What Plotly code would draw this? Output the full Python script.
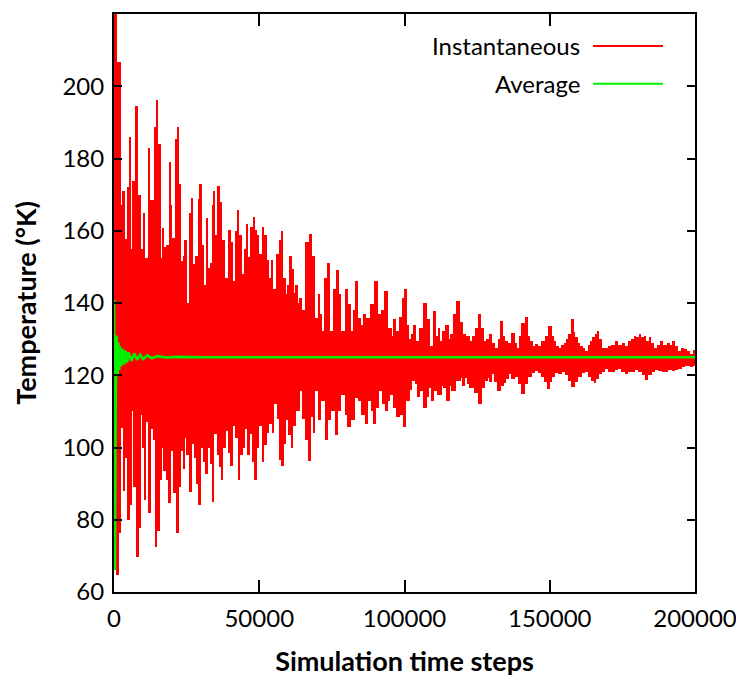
import plotly.graph_objects as go

# ---------------- data ----------------
# Upper peaks of the instantaneous temperature (step, K)
peak_steps = [300, 1650, 2480, 3270, 3960, 4750, 5580, 6130, 6820, 7850, 8780, 9710, 10270, 11090,
              11990, 12820, 13710, 14190, 14880, 15670, 16260, 16810, 17640, 18430, 19120, 19710,
              20500, 21190, 21880, 22560, 23360, 23940, 24630, 25420, 26250, 26940, 27490, 28320,
              29210, 29800, 30590, 31180, 31970, 32900, 33490, 34040, 34620, 35210, 36000, 36690,
              37720, 38650, 39790, 40580, 41510, 42100, 42650, 43480, 44370, 45200, 45750, 46440,
              47270, 48160, 48750, 49540, 50470, 51260, 52090, 52980, 53810, 54500, 55290, 56430,
              57260, 57810, 58740, 59320, 59870, 60800, 61600, 62180, 62760, 63660, 64250, 65280,
              66420, 67590, 68490, 69660, 70560, 71250, 71930, 72860, 73890, 74820, 75960, 76890,
              77680, 78820, 79990, 80890, 81920, 82680, 83440, 84570, 85430, 86300, 87430, 88190,
              88950, 90330, 91460, 92500, 93530, 94910, 95770, 96630, 97770, 98700, 99490, 100420,
              101100, 101800, 102660, 103520, 104660, 105830, 107210, 108110, 109280, 110410,
              111100, 111900, 112650, 113510, 114650, 115410, 116170, 117300, 118440, 119610,
              120750, 121890, 123060, 123850, 124780, 125920, 126780, 127640, 128680, 129710,
              130570, 131680, 132570, 133400, 134190, 135120, 136260, 137400, 138330, 139120,
              140050, 140840, 142010, 142800, 143730, 144520, 145450, 146590, 147720, 148830,
              150030, 150890, 151750, 152610, 153480, 154340, 155200, 156060, 156920, 157850,
              158470, 159230, 160020, 160950, 161740, 162670, 163640, 164330, 164950, 165880,
              166670, 167430, 168390, 169500, 170700, 171730, 173010, 174150, 175280, 176390,
              177590, 178450, 179320, 180180, 181040, 181900, 182760, 183620, 184490, 185350,
              186210, 187410, 188520, 189650, 190790, 191720, 192510, 193610, 194820, 195680,
              196540, 197680, 198850, 199640]
peak_temps = [220, 206.8, 167, 171, 157.6, 172, 186, 155, 173.7, 194.6, 170, 155, 165, 152.4,
              182.8, 168.4, 168.4, 188.8, 196.3, 184, 152.4, 160.7, 155.4, 156, 179, 167,
              158, 185.5, 188.8, 173, 151.6, 153, 157.5, 140, 165, 169, 150.8, 153,
              168.7, 173, 156, 145, 163.4, 149.6, 151, 167, 171, 158.7, 172.3, 168,
              157.5, 147, 160.3, 157, 146, 160, 165.8, 158.7, 148, 155, 162, 152.6,
              161, 163.9, 160.3, 158.7, 153.5, 161, 158.7, 152, 147, 152, 144, 153.5,
              157.5, 160, 147, 142.5, 145, 153, 149.5, 142.8, 145, 140, 141.4, 138,
              157, 159, 153, 135.9, 142.5, 137, 132.3, 147, 151, 132.3, 144, 149,
              142.5, 132.3, 143.9, 139.7, 132.3, 138, 146, 135.9, 134, 137, 135.9, 133,
              139.7, 146, 137, 138, 143.3, 133, 131, 135.6, 132.3, 136, 141.4, 144,
              134, 130, 131.5, 134, 129.5, 133, 140, 135.6, 128, 137.8,
              131, 133, 129.5, 132.3, 134, 130, 131.4, 137, 140.5, 134.8,
              131.4, 131, 129.5, 131, 133, 137, 133, 129.5, 130, 131.4,
              129, 127.6, 130, 135, 131, 129.5, 129, 131.7, 129, 127.6,
              131, 134.5, 136, 131, 129.5, 128, 128.6, 128, 129.5, 131,
              133.7, 131, 129.5, 128, 127.6, 128.5, 129, 130, 131.4, 135.6,
              132, 130.5, 129, 128.2, 127.5, 126.8, 128.5, 129.5, 130.5, 131.5,
              132.3, 130, 127.6, 127.5, 128.2, 128.5, 129.5, 128.5, 129, 128,
              129.5, 130, 131, 130.5, 131.4, 130.5, 131, 129.5, 130.5, 129,
              127.6, 128.5, 129.5, 128.5, 129, 128.5, 129.5, 128, 126.8, 127.5,
              127.2, 126.8, 126, 127]

# Lower troughs of the instantaneous temperature (step, K)
trough_steps = [1200, 1890, 2820, 3380, 4200, 5100, 5680, 6480, 7060, 7990, 8780, 9370, 9920,
                10750, 11440, 12230, 13020, 13710, 14540, 15330, 16020, 16810, 17400, 18330,
                19120, 20050, 20840, 21770, 22560, 23360, 24050, 24630, 25420, 26350, 27150,
                27970, 28660, 29450, 30250, 30940, 31760, 32660, 33490, 34040, 34970, 35760,
                36590, 37280, 38070, 38860, 39550, 40380, 41170, 42100, 43000, 43820, 44610,
                45540, 46340, 47270, 48060, 48750, 49540, 50470, 51260, 52090, 52980, 53810,
                54710, 55530, 56430, 57260, 57950, 58740, 59670, 60460, 61250, 62180, 63320,
                64490, 65280, 66210, 67350, 68280, 68900, 69660, 70800, 71930, 73100, 74240,
                75380, 76550, 77680, 78820, 79990, 80890, 82270, 83440, 84570, 85710, 86880,
                88020, 88880, 89740, 90670, 92050, 92840, 93770, 94560, 95500, 96630, 97770,
                98940, 100070, 101210, 101970, 102930, 104100, 104900, 105830, 107210, 108000,
                108690, 109550, 110410, 112130, 113000, 113860, 115000, 115760, 116720, 118440,
                119610, 120400, 121330, 122120, 123060, 124780, 125920, 126500, 127090, 128250,
                128800, 129560, 130500, 131430, 132220, 132810, 133670, 134530, 135390, 136260,
                137290, 138560, 139700, 140840, 141940, 143140, 144280, 145450, 146590, 147720,
                148660, 149450, 150380, 151170, 152270, 153480, 154680, 155790, 156920, 158060,
                159160, 160370, 161500, 162670, 163810, 164840, 165530, 166390, 167250, 168390,
                169560, 170700, 171840, 172940, 174150, 175280, 176460, 177590, 178730, 179830,
                181040, 182180, 183340, 184490, 185620, 186730, 187940, 189070, 190240, 191380,
                192510, 193610, 194820, 195960, 197120, 197910, 198850, 199640]
trough_temps = [64.7, 76.3, 105.5, 88, 97, 80, 84, 110, 89, 69.7, 77.7, 109, 100,
                85.4, 107, 82, 105, 102, 72.4, 77, 91, 100, 93.6, 91,
                84.5, 99, 87.3, 76.3, 89, 99, 94, 102.7, 98, 87.6, 101,
                97, 90, 84, 100, 96, 92.8, 100, 95.4, 84.8, 103.8, 98,
                94.7, 91, 100, 104.5, 98.5, 95, 106, 102.7, 91, 98, 100,
                105, 98, 103.8, 96, 91, 100, 106, 96, 100.6, 104, 106.5,
                104, 112, 108, 96.6, 95, 101, 107.6, 103.5, 100, 106, 110,
                115.7, 108, 102, 96.4, 108.4, 104, 115.7, 107.6, 113, 102, 107.6,
                110, 103.5, 110, 114.5, 109, 105.6, 107.6, 113.8, 113, 109, 106.4,
                113, 110, 106.4, 111, 115.7, 112, 110, 113, 114.5, 111, 108.4,
                109, 105.6, 113, 116, 118.4, 117.5, 114, 115.7, 111, 114,
                116.6, 113, 115.7, 114.5, 117, 116.6, 113, 117, 115.7, 118.4,
                119.3, 117, 119.3, 117.5, 116.6, 115, 112, 112, 116.6, 118.5,
                119.3, 118, 120.4, 118, 115.7, 115.7, 117, 117.9, 119, 120.4,
                119, 119.5, 117.5, 114.9, 117.5, 119.5, 120.5, 121.3, 120.5, 119.5,
                118, 116.3, 118, 119.5, 120.5, 120.4, 121, 120, 118.5, 116.8,
                118, 119.5, 120.5, 120.9, 119.5, 118.5, 117.9, 119, 120.4, 121,
                121.8, 121, 120.9, 121.5, 121.8, 121, 120.4, 121, 120.9, 121.5,
                120.9, 120, 118.6, 120, 120.9, 121.5, 121.3, 121, 120.9, 121.5,
                121.3, 121.5, 121.8, 122.2, 122.7, 122.5, 122.2, 122.5]

# Running average (step, K)
avg_steps = [0, 300, 600, 900, 1200, 1500, 1800, 2100, 2500, 3000, 3500, 4000, 4500, 5000,
             6000, 7000, 8000, 9000, 10000, 11500, 13000, 15000, 18000, 22000, 30000, 200000]
avg_temps = [141, 66, 116, 131, 120, 129, 121.5, 128, 122.5, 127.3, 123, 126.8, 123.5, 126.3,
             124, 126, 124.3, 125.7, 124.5, 125.5, 124.7, 125.3, 124.9, 125.1, 125, 125]

x_ticks = [0, 50000, 100000, 150000, 200000]
y_ticks = [60, 80, 100, 120, 140, 160, 180, 200, 220]
series_names = ["Instantaneous", "Average"]
mean_level = 125  # level the oscillation is centred on

RED = "#ff0000"
GREEN = "#00f000"
FONT = "Lato"


def widths(steps):
    """width of each column: wide enough to touch both neighbours (no gaps in the core)"""
    out = []
    n = len(steps)
    for i in range(n):
        left = steps[i] - steps[i - 1] if i > 0 else steps[1] - steps[0]
        right = steps[i + 1] - steps[i] if i < n - 1 else steps[-1] - steps[-2]
        out.append(max(left, right) * 1.02)
    return out


fig = go.Figure()
# instantaneous: dense oscillation drawn as columns from the mean to each extreme
fig.add_trace(go.Bar(x=peak_steps, y=[t - mean_level for t in peak_temps], base=mean_level,
                     width=widths(peak_steps), marker=dict(color=RED, line=dict(width=0)),
                     name=series_names[0], showlegend=False))
fig.add_trace(go.Bar(x=trough_steps, y=[mean_level - t for t in trough_temps], base=trough_temps,
                     width=widths(trough_steps), marker=dict(color=RED, line=dict(width=0)),
                     name=series_names[0], showlegend=False))
fig.add_trace(go.Scatter(x=avg_steps, y=avg_temps, mode="lines", name=series_names[1],
                         line=dict(color=GREEN, width=2.6, simplify=False), showlegend=False))

axis_common = dict(showline=True, linecolor="black", linewidth=2, mirror="allticks",
                   ticks="inside", tickcolor="black", tickwidth=2, showgrid=False,
                   zeroline=False, tickfont=dict(family=FONT, size=24, color="black"))

fig.update_xaxes(range=[0, 200000], tickvals=x_ticks, ticktext=[str(v) for v in x_ticks],
                 ticklen=12, ticklabelstandoff=4,
                 title=dict(text="Simulation time steps",
                            font=dict(family=FONT, size=27, color="black", weight="bold"),
                            standoff=21),
                 **axis_common)
fig.update_yaxes(range=[60, 220], tickvals=y_ticks, ticktext=[str(v) for v in y_ticks],
                 ticklen=8, ticklabelstandoff=3,
                 title=dict(text="Temperature (°K)",
                            font=dict(family=FONT, size=27, color="black", weight="bold"),
                            standoff=18),
                 **axis_common)

# legend drawn inside the plot, text left of the line sample (gnuplot style)
leg_y = [0.9448, 0.8793]
leg_colors = [RED, GREEN]
for name, yy, col in zip(series_names, leg_y, leg_colors):
    fig.add_annotation(xref="paper", yref="paper", x=0.8055, y=yy, text=name, showarrow=False,
                       xanchor="right", yanchor="middle",
                       font=dict(family=FONT, size=24, color="black"))
    fig.add_shape(type="line", xref="paper", yref="paper", x0=0.8244, x1=0.9449, y0=yy, y1=yy,
                  line=dict(color=col, width=2))

# page body has an 8px margin: size the figure so the frame lands where the reference has it
fig.update_layout(width=736, height=673, margin=dict(l=106, r=49, t=4, b=89),
                  plot_bgcolor="white", paper_bgcolor="white",
                  barmode="overlay", bargap=0)

fig.write_html("out.html")
